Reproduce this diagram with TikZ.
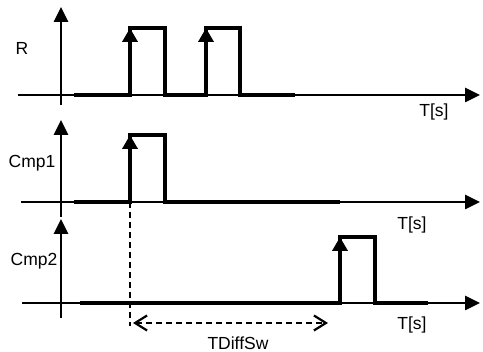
\documentclass[tikz,border=0pt]{standalone}
\usepackage{fontspec}
\setmainfont{Liberation Sans}
\usetikzlibrary{arrows.meta}

\begin{document}
\begin{tikzpicture}[x=1pt, y=-1pt,
	axis/.style={line width=2.6pt, -{Triangle[length=15pt,width=14pt]}},
	sig/.style={line width=4pt, line join=miter},
	edge/.style={line width=4pt, -{Triangle[length=14pt,width=15pt]}},
	lbl/.style={font=\fontsize{17.5}{20}\selectfont, inner sep=0pt}]
	\useasboundingbox (0,0) rectangle (483,352);
	% R
	\coordinate (R0) at (18,95);
	\coordinate (R1) at (480,95);
	\coordinate (RY0) at (61,105);
	\coordinate (RY1) at (61,7);
	\node[lbl] (XR) at (22,48) {R};
	\node[lbl] (XRt) at (434,112) {T[s]};
	\draw[axis] (R0) -- (R1);
	\draw[axis] (RY0) -- (RY1);
	\draw[sig] (74,95) -- (130,95) -- (130,28) -- (165,28) -- (165,95) -- (206,95) -- (206,28) -- (240,28) -- (240,95) -- (295,95);
	\draw[edge] (130,95) -- (130,28);
	\draw[edge] (206,95) -- (206,28);
	% Cmp1
	\coordinate (A0) at (21,202);
	\coordinate (A1) at (480,202);
	\coordinate (AY0) at (61,217);
	\coordinate (AY1) at (61,120);
	\node[lbl] (XA) at (32,163) {Cmp1};
	\node[lbl] (XAt) at (412,225) {T[s]};
	\draw[axis] (A0) -- (A1);
	\draw[axis] (AY0) -- (AY1);
	\draw[sig] (74,202) -- (130,202) -- (130,135) -- (165,135) -- (165,202) -- (340,202);
	\draw[edge] (130,202) -- (130,135);
	% Cmp2
	\coordinate (B0) at (22,303);
	\coordinate (B1) at (480,303);
	\coordinate (BY0) at (61,318);
	\coordinate (BY1) at (61,219);
	\node[lbl] (XB) at (34,261) {Cmp2};
	\node[lbl] (XBt) at (412,325) {T[s]};
	\draw[axis] (B0) -- (B1);
	\draw[axis] (BY0) -- (BY1);
	\draw[sig] (80,303) -- (340,303) -- (340,237) -- (375,237) -- (375,303) -- (428,303);
	\draw[edge] (340,303) -- (340,237);
	% TDiffSw
	\coordinate (D0) at (130,202);
	\coordinate (D1) at (130,326);
	\coordinate (T0) at (133,323);
	\coordinate (T1) at (328,323);
	\node[lbl] (XT) at (238,343) {TDiffSw};
	\draw[line width=2.2pt, dash pattern=on 6pt off 4pt] (D0) -- (D1);
	\draw[line width=2.2pt, dash pattern=on 6pt off 4pt, {Straight Barb[length=12pt,width=15pt]}-{Straight Barb[length=12pt,width=15pt]}] (T0) -- (T1);
\end{tikzpicture}
\end{document}
